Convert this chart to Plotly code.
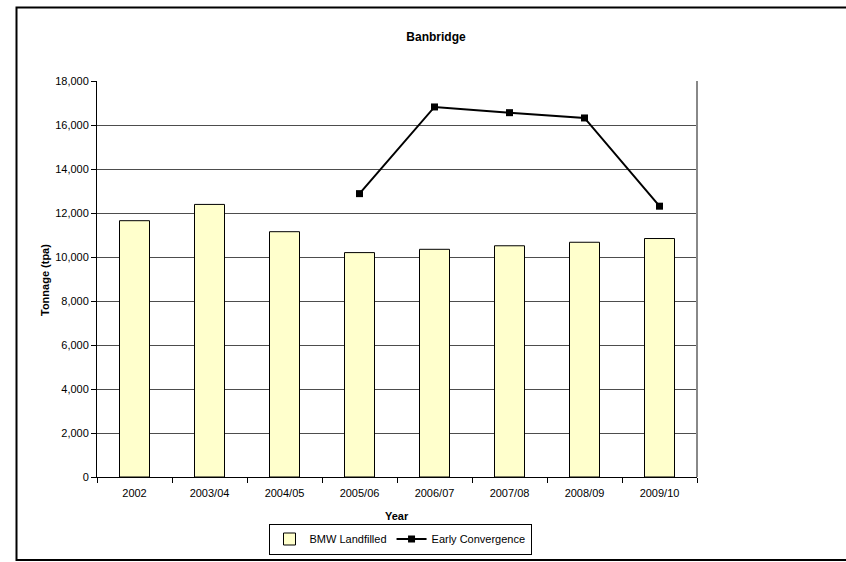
import plotly.graph_objects as go

years = ["2002", "2003/04", "2004/05", "2005/06", "2006/07", "2007/08", "2008/09", "2009/10"]
bmw_landfilled = [11650, 12390, 11150, 10200, 10350, 10510, 10670, 10840]
early_convergence = [None, None, None, 12880, 16820, 16560, 16320, 12310]

FONT = "Liberation Sans, Arial, sans-serif"

# plot area in pixels: x 97..697, y 81..477
L, R, T, B = 97, 697, 81, 477
W, H = 846, 562
def px(x):
    return (x - L) / (R - L)
def py(y):
    return (B - y) / (B - T)

fig = go.Figure()
fig.add_trace(go.Bar(
    x=years, y=bmw_landfilled, name="BMW Landfilled",
    marker=dict(color="#FFFFCC", line=dict(color="black", width=1)),
    width=0.4,
))
fig.add_trace(go.Scatter(
    x=years, y=early_convergence, name="Early Convergence",
    mode="lines+markers",
    line=dict(color="black", width=2),
    marker=dict(symbol="square", size=7, color="black"),
))

fig.update_layout(
    width=W, height=H,
    margin=dict(l=L, r=W - R, t=T, b=H - B, autoexpand=False),
    paper_bgcolor="white", plot_bgcolor="white",
    font=dict(family=FONT, size=11, color="black"),
    title=dict(text="<b>Banbridge</b>", x=px(436), xref="paper", xanchor="center",
               y=1 - 37 / H, yanchor="middle", font=dict(size=12, family=FONT, color="black")),
    showlegend=True,
    legend=dict(orientation="h", x=px(400), xanchor="center",
                yref="container", y=1 - 539 / H, yanchor="middle",
                bordercolor="black", borderwidth=1, font=dict(size=11, family=FONT),
                itemwidth=30, tracegroupgap=0),
    bargap=0.6,
)
fig.update_yaxes(
    range=[0, 18000], dtick=2000, tickformat=",",
    showline=True, linecolor="black", linewidth=1,
    ticks="outside", ticklen=5, tickcolor="black",
    showgrid=True, gridcolor="#4d4d4d", gridwidth=1,
    zeroline=False, tickfont=dict(size=11, family=FONT),
)
fig.update_xaxes(
    showline=True, linecolor="black", linewidth=1,
    ticks="outside", ticklen=5, tickcolor="black", tickson="boundaries",
    ticklabelstandoff=6,
    showgrid=False, tickfont=dict(size=11, family=FONT),
)

# axis titles
fig.add_annotation(text="<b>Tonnage (tpa)</b>", x=px(45), y=py(280), xref="paper", yref="paper",
                   xanchor="center", yanchor="middle",
                   textangle=-90, showarrow=False, font=dict(size=11, family=FONT))
fig.add_annotation(text="<b>Year</b>", x=px(397), y=py(516), xref="paper", yref="paper",
                   xanchor="center", yanchor="middle",
                   showarrow=False, font=dict(size=11, family=FONT))

# plot area right border
fig.add_shape(type="line", xref="paper", yref="paper", x0=1, x1=1, y0=0, y1=1,
              line=dict(color="#888888", width=2))
# outer chart frame (right edge lies beyond the picture)
fig.add_shape(type="rect", xref="paper", yref="paper",
              x0=px(16.5), x1=px(852), y0=py(560), y1=py(7.5),
              line=dict(color="black", width=2), layer="below")

fig.write_html("out.html", config={"displayModeBar": False},
               post_script="document.body.style.margin='0';document.body.style.overflow='hidden';")
